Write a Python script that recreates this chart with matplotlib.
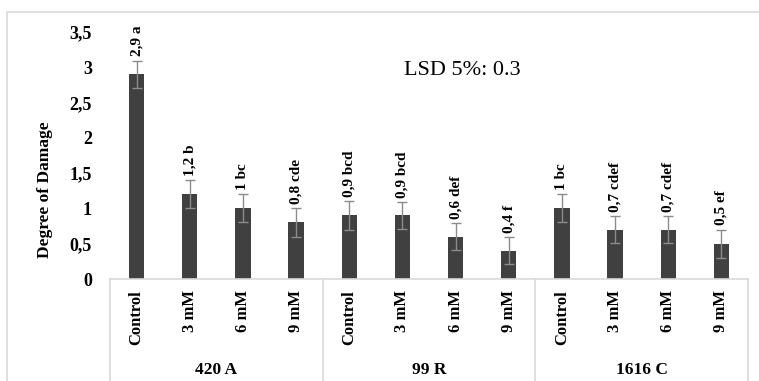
import matplotlib.pyplot as plt
import numpy as np
from matplotlib.patches import Rectangle
from matplotlib.lines import Line2D
import matplotlib.transforms as mtransforms

plt.rcParams['font.family'] = ['Liberation Serif', 'DejaVu Serif']

treatments = ['Control', '3 mM', '6 mM', '9 mM'] * 3
rootstocks = ['420 A', '99 R', '1616 C']
damage = [2.9, 1.2, 1.0, 0.8, 0.9, 0.9, 0.6, 0.4, 1.0, 0.7, 0.7, 0.5]
errors = [0.19, 0.2, 0.2, 0.2, 0.2, 0.19, 0.19, 0.19, 0.2, 0.19, 0.19, 0.2]
letters = ['a', 'b', 'bc', 'cde', 'bcd', 'bcd', 'def', 'f', 'bc', 'cdef', 'cdef', 'ef']
yticks = [0, 0.5, 1, 1.5, 2, 2.5, 3, 3.5]

W, H = 759, 381
fig = plt.figure(figsize=(W / 100, H / 100), dpi=100)

# light grey frame around the chart area
fig.patches.append(Rectangle((7 / W, -0.05), 1.0, (H - 12) / H + 0.05,
                             transform=fig.transFigure, fill=False,
                             edgecolor='#d9d9d9', linewidth=1.2))

ax = fig.add_axes([110 / W, (H - 279) / H, 638 / W, 247.3 / H])
x = np.arange(len(damage))
ax.bar(x, damage, width=0.29, color='#404040', zorder=2)
ax.errorbar(x, damage, yerr=errors, fmt='none', ecolor='#8c8c8c',
            elinewidth=1, capsize=3.5, capthick=1, zorder=3)

def fmt(v):
    s = ('%g' % v).replace('.', ',')
    return s

for xi, v, e, l in zip(x, damage, errors, letters):
    ax.text(xi, v + e + 0.06, fmt(v) + ' ' + l, rotation=90, ha='center',
            va='bottom', fontsize=11, fontweight='bold')

ax.text(0.552, 0.845, 'LSD 5%: 0.3', transform=ax.transAxes, fontsize=16,
        ha='center', va='center')

ax.set_xlim(-0.5, len(damage) - 0.5)
ax.set_ylim(0, 3.5)
ax.set_yticks(yticks)
ax.set_yticklabels([fmt(t) for t in yticks], fontweight='bold', fontsize=13)
ax.tick_params(axis='y', length=0, pad=13)
ax.set_xticks(x)
ax.set_xticklabels(treatments, rotation=90, fontweight='bold', fontsize=12)
ax.tick_params(axis='x', length=0, pad=8)
for side in ['top', 'right', 'left']:
    ax.spines[side].set_visible(False)
ax.spines['bottom'].set_color('#d9d9d9')
ax.spines['bottom'].set_linewidth(1.2)
ax.set_ylabel('Degree of Damage', fontweight='bold', fontsize=12.5,
              va='center')
ax.yaxis.set_label_coords(-0.102, 0.36)

# group separators and rootstock names under the category labels
trans = mtransforms.blended_transform_factory(ax.transData, fig.transFigure)
for b in [-0.5, 3.5, 7.5, 11.5]:
    fig.lines.append(Line2D([b, b], [-0.01, (H - 279) / H], transform=trans,
                            color='#d9d9d9', linewidth=1.2))
for i, name in enumerate(rootstocks):
    ax.text(4 * i + 1.5, 11 / H, name, transform=trans, ha='center',
            va='center', fontsize=12.5, fontweight='bold')

fig.savefig('out.png', dpi=100)
